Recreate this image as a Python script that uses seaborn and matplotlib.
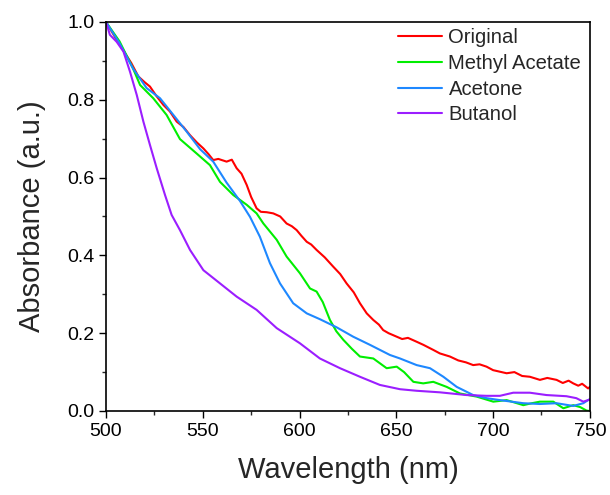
import numpy as np
import pandas as pd
import seaborn as sns
import matplotlib
matplotlib.use("Agg")
import matplotlib.pyplot as plt
from matplotlib.ticker import MultipleLocator, FormatStrFormatter

series_names = ["Original", "Methyl Acetate", "Acetone", "Butanol"]
series_colors = ["#FF0000", "#00EE00", "#1E88FF", "#9B1EFF"]

orig_x = [500, 503, 506, 509.8, 513, 516.7, 520, 522.7, 526, 529.6, 533, 536.5, 540, 543.4, 547, 550.3,
          553, 555.4, 558, 562.3, 565, 567.5, 570, 572.7, 575, 577.8, 580, 583, 586.4, 590, 593.3,
          596, 598.5, 601, 603.7, 606, 608.8, 613, 617.4, 621, 624.3, 628, 631.2, 634.7, 638.1, 641,
          643.2, 646, 650.2, 653, 656, 660.5, 664, 669.1, 672.5, 677.7, 682, 686, 689.7, 693, 696.6,
          700, 703.5, 707, 711, 715, 719, 724.2, 728, 732.8, 736, 739, 741.4, 744, 746, 749.1, 750]
orig_y = [1.0, 0.975, 0.95, 0.92, 0.895, 0.86, 0.845, 0.834, 0.81, 0.787, 0.77, 0.744, 0.73, 0.709, 0.69, 0.675,
          0.66, 0.645, 0.648, 0.641, 0.646, 0.624, 0.61, 0.581, 0.55, 0.521, 0.512, 0.511, 0.508, 0.5, 0.482,
          0.475, 0.465, 0.45, 0.435, 0.428, 0.414, 0.395, 0.371, 0.352, 0.328, 0.305, 0.277, 0.251, 0.234, 0.222,
          0.208, 0.2, 0.191, 0.185, 0.188, 0.178, 0.17, 0.157, 0.148, 0.14, 0.13, 0.125, 0.118, 0.12, 0.114,
          0.105, 0.101, 0.097, 0.1, 0.09, 0.088, 0.08, 0.085, 0.08, 0.072, 0.078, 0.071, 0.065, 0.07, 0.058, 0.062]

meac_x = [500, 507, 514, 517.6, 524.4, 531.3, 538.2, 546.8, 553.7, 558.9, 565.8, 572.7, 577.8, 581.3, 588.2,
          593.3, 600.2, 605.4, 608.8, 612, 615.7, 619, 622.6, 627, 631.2, 638.1, 645, 650.2, 654, 658.8,
          663.9, 669.1, 676, 682.9, 691.5, 700.1, 707, 715.6, 720, 724.2, 731.1, 736.3, 741.4, 745, 748.3, 750]
meac_y = [1.0, 0.95, 0.88, 0.838, 0.804, 0.761, 0.699, 0.662, 0.632, 0.589, 0.555, 0.53, 0.508, 0.482, 0.44,
          0.397, 0.354, 0.315, 0.307, 0.28, 0.234, 0.205, 0.183, 0.16, 0.14, 0.135, 0.11, 0.114, 0.1, 0.075,
          0.071, 0.075, 0.062, 0.045, 0.037, 0.024, 0.028, 0.015, 0.02, 0.024, 0.024, 0.007, 0.015, 0.01, 0.001, 0.0]

acet_x = [500, 507, 514, 521, 527.9, 534.8, 541.7, 548.6, 555.4, 562.3, 569.2, 574.4, 579.5, 584.7, 589.9,
          596.7, 603.7, 610.5, 619.2, 627.7, 636.4, 646.7, 651.9, 660.5, 667.4, 674.3, 681.2, 689.7, 696.6,
          703.5, 715.6, 724.2, 732.8, 741.4, 746.6, 749.1, 750]
acet_y = [1.0, 0.945, 0.88, 0.83, 0.804, 0.761, 0.718, 0.673, 0.641, 0.587, 0.54, 0.499, 0.448, 0.38, 0.328,
          0.277, 0.251, 0.236, 0.215, 0.191, 0.17, 0.144, 0.135, 0.118, 0.11, 0.088, 0.062, 0.041, 0.033,
          0.028, 0.02, 0.018, 0.02, 0.013, 0.02, 0.028, 0.03]

buta_x = [500, 502, 505.5, 509, 512.4, 515.9, 519.3, 522.7, 526.2, 530.5, 533.9, 538.2, 543.4, 550.3, 558.9,
          567.5, 577.8, 588.2, 600.2, 610.5, 620.9, 631.2, 641.5, 651.9, 660.5, 672.5, 686.3, 696.6, 703.5,
          710.4, 719, 727.6, 737.9, 743, 746.6, 749.1, 750]
buta_y = [1.0, 0.967, 0.949, 0.924, 0.872, 0.812, 0.744, 0.684, 0.624, 0.555, 0.504, 0.465, 0.414, 0.362, 0.328,
          0.294, 0.26, 0.213, 0.174, 0.135, 0.11, 0.088, 0.067, 0.056, 0.052, 0.048, 0.041, 0.039, 0.039,
          0.047, 0.047, 0.041, 0.038, 0.033, 0.024, 0.028, 0.03]

xs = [orig_x, meac_x, acet_x, buta_x]
ys = [orig_y, meac_y, acet_y, buta_y]
frames = [pd.DataFrame({"Wavelength": x, "Absorbance": y, "Sample": n}) for x, y, n in zip(xs, ys, series_names)]
df = pd.concat(frames, ignore_index=True)

sns.set_style("ticks")
plt.rcParams["font.family"] = ["Liberation Sans", "DejaVu Sans"]

fig = plt.figure(figsize=(6.1, 4.95), dpi=100)
ax = fig.add_axes([0.1738, 0.1697, 0.7932, 0.7859])

sns.lineplot(data=df, x="Wavelength", y="Absorbance", hue="Sample", hue_order=series_names,
             palette=series_colors, estimator=None, sort=False, linewidth=1.5, ax=ax)

ax.set_xlim(500, 750)
ax.set_ylim(0, 1.0)
ax.xaxis.set_major_locator(MultipleLocator(50))
ax.xaxis.set_minor_locator(MultipleLocator(25))
ax.yaxis.set_major_locator(MultipleLocator(0.2))
ax.yaxis.set_minor_locator(MultipleLocator(0.1))
ax.yaxis.set_major_formatter(FormatStrFormatter("%.1f"))
ax.tick_params(axis="both", which="major", direction="out", length=5, width=1, labelsize=14, colors="black")
ax.tick_params(axis="both", which="minor", direction="out", length=3, width=1)
ax.tick_params(top=False, right=False)
for s in ax.spines.values():
    s.set_visible(True)
    s.set_linewidth(1.2)
    s.set_color("black")

ax.set_xlabel("Wavelength (nm)", fontsize=21, labelpad=12)
ax.set_ylabel("Absorbance (a.u.)", fontsize=21, labelpad=15)

leg = ax.legend(loc="upper left", bbox_to_anchor=(0.603, 0.985), frameon=False, fontsize=14.6,
                handlelength=2.2, handletextpad=0.3, labelspacing=0.34, borderpad=0, borderaxespad=0)
for line in leg.get_lines():
    line.set_linewidth(1.5)

fig.savefig("out.png", dpi=100)
